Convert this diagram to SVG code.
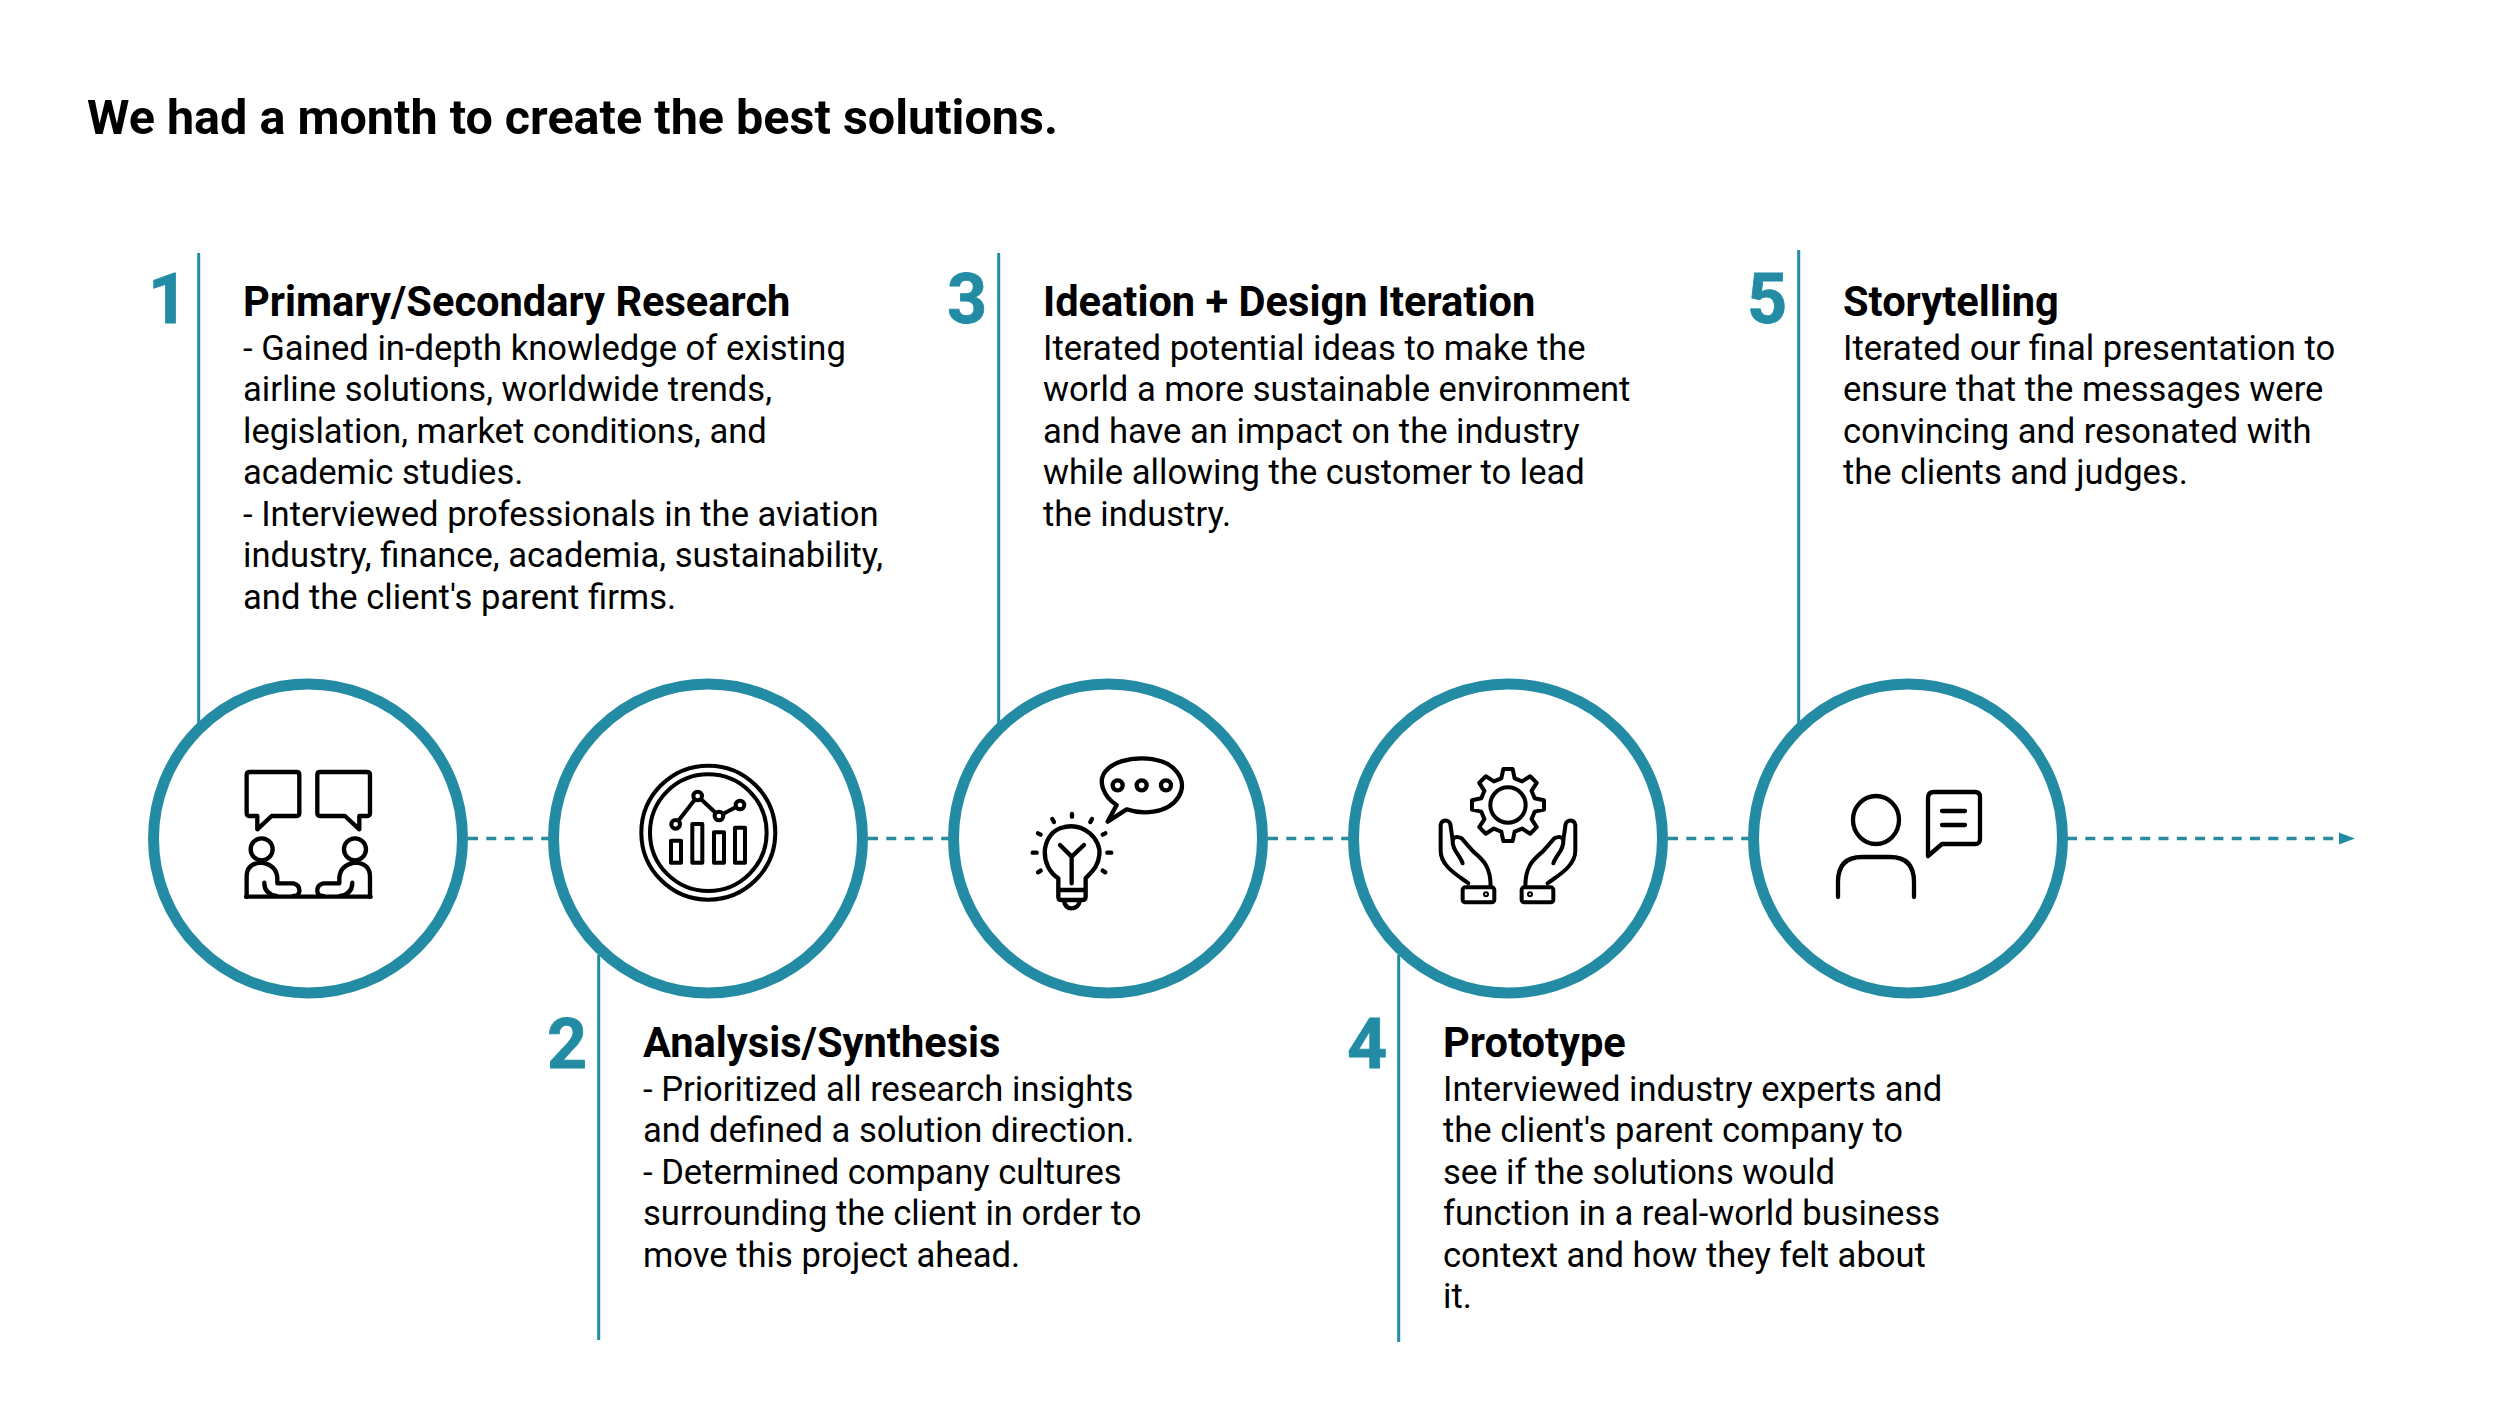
<svg xmlns="http://www.w3.org/2000/svg" width="2500" height="1406" viewBox="0 0 2500 1406">
<style>
text{font-family:Roboto,"Liberation Sans",sans-serif;fill:#000}
.t{font-size:48.500px;font-weight:700}
.h{font-size:41.600px;font-weight:700}
.b{font-size:34.600px}
.n{font-size:70px;font-weight:700;fill:#238ca4;stroke:#238ca4;stroke-width:.8}
.v{stroke:#238ca4;stroke-width:3;fill:none}
.d{stroke:#2a8a9f;stroke-width:3.500;stroke-dasharray:10 8.300;fill:none}
.c{fill:#fff;stroke:#238ca4;stroke-width:11}
.i{fill:none;stroke:#000;stroke-linecap:round;stroke-linejoin:round}
</style>
<defs>
<marker id="arrow" markerUnits="userSpaceOnUse" markerWidth="16" markerHeight="16" refX="0" refY="8" orient="auto"><path d="M0 2L16 8L0 14Z" fill="#238ca4"/></marker>
<g id="p1"><path d="M360 306H500Q508 306 508 314V430Q508 438 500 438H425L382 478V438H358Q350 438 350 430V314Q350 306 360 306Z"/><circle cx="395" cy="538" r="33"/><path d="M350 680V620Q350 580 395 578Q440 585 442 625V640H490Q510 645 508 665Q505 678 490 678M403 638Q403 672 440 678"/></g>
<g id="hand"><path d="M385 640C360 620 300 590 302 540V465Q305 450 320 452Q332 455 332 470L338 510Q345 495 365 505L400 545C430 570 452 590 452 650"/><path d="M338 510C335 540 360 555 368 580"/><rect x="368" y="652" width="95" height="45" rx="8"/><circle cx="438" cy="673" r="3"/></g>
</defs>
<text class="t" x="87" y="133.500">We had a month to create the best solutions.</text>
<g id="connectors">
<path class="v" d="M198.700 253V725"/><path class="v" d="M598.700 955V1340"/><path class="v" d="M998.700 253V725"/><path class="v" d="M1398.700 955V1342"/><path class="v" d="M1798.700 250V725"/>
<path class="d" d="M468 838.500H548"/><path class="d" d="M868 838.500H948"/><path class="d" d="M1268 838.500H1348"/><path class="d" d="M1668 838.500H1748"/><path class="d" d="M2067 838.500H2339" marker-end="url(#arrow)"/>
</g>
<g id="node1">
<circle class="c" cx="308" cy="838.500" r="154.500"/>
<g class="i" stroke-width="13" transform="translate(130 670) scale(.3333)"><use href="#p1"/><use href="#p1" transform="matrix(-1 0 0 1 1070 0)"/><path d="M348 680H722"/></g>
<text class="n" x="148" y="323">1</text>
<text class="h" x="243" y="316">Primary/Secondary Research</text>
<text class="b" x="243" y="359.500">- Gained in-depth knowledge of existing</text>
<text class="b" x="243" y="401">airline solutions, worldwide trends,</text>
<text class="b" x="243" y="442.500">legislation, market conditions, and</text>
<text class="b" x="243" y="484">academic studies.</text>
<text class="b" x="243" y="525.500">- Interviewed professionals in the aviation</text>
<text class="b" x="243" y="567">industry, finance, academia, sustainability,</text>
<text class="b" x="243" y="608.500">and the client's parent firms.</text>
</g>
<g id="node2">
<circle class="c" cx="708" cy="838.500" r="154.500"/>
<g class="i" stroke-width="12" transform="translate(540 670) scale(.3333)"><circle cx="505" cy="488" r="201"/><circle cx="505" cy="488" r="175"/><path d="M407 463L473 378L537 438L600 405"/><circle cx="407" cy="463" r="13" fill="#fff"/><circle cx="473" cy="378" r="13" fill="#fff"/><circle cx="537" cy="438" r="13" fill="#fff"/><circle cx="600" cy="405" r="13" fill="#fff"/><rect x="393" y="512" width="30" height="66"/><rect x="457" y="462" width="30" height="116"/><rect x="522" y="487" width="30" height="91"/><rect x="585" y="473" width="30" height="105"/></g>
<text class="n" x="547" y="1067.500">2</text>
<text class="h" x="643" y="1057">Analysis/Synthesis</text>
<text class="b" x="643" y="1100.500">- Prioritized all research insights</text>
<text class="b" x="643" y="1142">and defined a solution direction.</text>
<text class="b" x="643" y="1183.500">- Determined company cultures</text>
<text class="b" x="643" y="1225">surrounding the client in order to</text>
<text class="b" x="643" y="1266.500">move this project ahead.</text>
</g>
<g id="node3">
<circle class="c" cx="1108" cy="838.500" r="154.500"/>
<g class="i" stroke-width="13" transform="translate(940 670) scale(.3333)"><path d="M530 405C490 380 470 330 500 300C540 255 670 250 710 305C750 355 710 415 640 425C610 430 580 425 560 418L503 455Z"/><circle cx="533" cy="346" r="15"/><circle cx="605" cy="346" r="15"/><circle cx="678" cy="346" r="15"/><path d="M355 625C300 590 300 500 360 475C430 450 485 510 478 555C475 590 455 605 437 625V680Q437 690 425 690H365Q355 690 355 680Z"/><path d="M358 660H434M372 692Q375 715 395 715Q415 715 420 692M395 640V560M360 525L395 560L432 525"/><path d="M396 432V440M337 447L342 456M456 447L451 456M294 490L302 494M496 490L488 494M278 548H290M502 548H514M294 607L302 602M496 607L488 602"/></g>
<text class="n" x="947" y="323">3</text>
<text class="h" x="1043" y="316">Ideation + Design Iteration</text>
<text class="b" x="1043" y="359.500">Iterated potential ideas to make the</text>
<text class="b" x="1043" y="401">world a more sustainable environment</text>
<text class="b" x="1043" y="442.500">and have an impact on the industry</text>
<text class="b" x="1043" y="484">while allowing the customer to lead</text>
<text class="b" x="1043" y="525.500">the industry.</text>
</g>
<g id="node4">
<circle class="c" cx="1508" cy="838.500" r="154.500"/>
<g class="i" stroke-width="12" transform="translate(1340 670) scale(.3333)"><circle cx="504" cy="405" r="53"/><path transform="translate(504 405)" d="M-20-80L-14-108H14L20-80L42.400-70.700L66.500-86.300L86.300-66.500L70.700-42.400L80-20L108-14V14L80 20L70.700 42.400L86.300 66.500L66.500 86.300L42.400 70.700L20 80L14 108H-14L-20 80L-42.400 70.700L-66.500 86.300L-86.300 66.500L-70.700 42.400L-80 20L-108 14V-14L-80-20L-70.700-42.400L-86.300-66.500L-66.500-86.300L-42.400-70.700Z"/><use href="#hand"/><use href="#hand" transform="matrix(-1 0 0 1 1008 0)"/></g>
<text class="n" x="1347" y="1067.500">4</text>
<text class="h" x="1443" y="1057">Prototype</text>
<text class="b" x="1443" y="1100.500">Interviewed industry experts and</text>
<text class="b" x="1443" y="1142">the client's parent company to</text>
<text class="b" x="1443" y="1183.500">see if the solutions would</text>
<text class="b" x="1443" y="1225">function in a real-world business</text>
<text class="b" x="1443" y="1266.500">context and how they felt about</text>
<text class="b" x="1443" y="1308">it.</text>
</g>
<g id="node5">
<circle class="c" cx="1908" cy="838.500" r="154.500"/>
<g class="i" stroke-width="4.300"><ellipse cx="1876" cy="820" rx="23" ry="24"/><path d="M1838 897V882Q1838 857 1862 857H1890Q1914 857 1914 882V897"/><path d="M1934 792H1975Q1980 792 1980 797V839Q1980 844 1975 844H1942L1928 856V798Q1928 792 1934 792Z"/><path d="M1942 811H1965M1942 825H1965"/></g>
<text class="n" x="1747" y="323">5</text>
<text class="h" x="1843" y="316">Storytelling</text>
<text class="b" x="1843" y="359.500">Iterated our final presentation to</text>
<text class="b" x="1843" y="401">ensure that the messages were</text>
<text class="b" x="1843" y="442.500">convincing and resonated with</text>
<text class="b" x="1843" y="484">the clients and judges.</text>
</g>
</svg>
